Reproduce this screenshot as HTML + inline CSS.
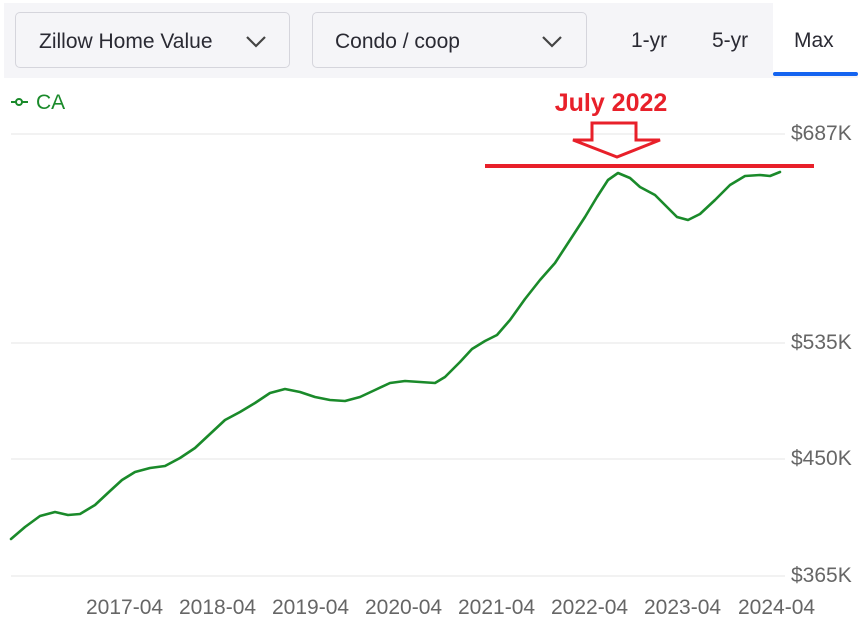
<!DOCTYPE html>
<html><head><style>
body{margin:0;width:864px;height:630px;background:#fff;font-family:"Liberation Sans",sans-serif;position:relative;overflow:hidden}
.bar{position:absolute;left:4px;top:3px;width:854px;height:75px;background:#f5f5f8}
.dd{position:absolute;top:12px;height:56px;border:1px solid #d5d5dc;border-radius:5px;background:#f5f5f8;font-size:21px;color:#2a2a33;line-height:58px;box-sizing:border-box;overflow:hidden;white-space:nowrap}
.tab{position:absolute;top:12px;height:56px;line-height:58px;font-size:21px;color:#2a2a33}
.ax{position:absolute;font-size:21px;color:#666}
</style></head><body>
<div class="bar"></div>
<div class="dd" style="left:15px;width:275px;padding-left:23px"><span style="display:inline-block;width:186px;overflow:hidden">Zillow Home Value</span></div>
<div class="dd" style="left:312px;width:275px;padding-left:22px">Condo / coop</div>
<svg style="position:absolute;left:0;top:0" width="864" height="80">
<polyline points="247,37 256,46 265,37" fill="none" stroke="#444" stroke-width="2.2"/>
<polyline points="543,37 552,46 561,37" fill="none" stroke="#444" stroke-width="2.2"/>
<rect x="773" y="3" width="85" height="72" fill="#fff"/>
<rect x="773" y="72" width="85" height="4" rx="2" fill="#1464f0"/>
</svg>
<div class="tab" style="left:631px">1-yr</div>
<div class="tab" style="left:712px">5-yr</div>
<div class="tab" style="left:794px">Max</div>
<svg style="position:absolute;left:0;top:80px" width="864" height="550" viewBox="0 80 864 550">
<line x1="11" y1="134" x2="785" y2="134" stroke="#eee" stroke-width="1.5"/>
<line x1="11" y1="343" x2="785" y2="343" stroke="#eee" stroke-width="1.5"/>
<line x1="11" y1="459" x2="785" y2="459" stroke="#eee" stroke-width="1.5"/>
<line x1="11" y1="576" x2="785" y2="576" stroke="#eee" stroke-width="1.5"/>
<line x1="11" y1="102" x2="28" y2="102" stroke="#1a8a2a" stroke-width="2"/>
<circle cx="19" cy="102" r="3" fill="#fff" stroke="#1a8a2a" stroke-width="2"/>
<text x="36" y="109" font-size="21" fill="#1a8a2a" font-family="Liberation Sans">CA</text>
<polyline fill="none" stroke="#1a8a2a" stroke-width="2.6" stroke-linejoin="round" stroke-linecap="round" points="11,539 25,527 40,516 55,512 68,515 80,514 95,505 110,491 122,480 135,472 150,468 165,466 180,458 195,448 210,434 225,420 240,412 255,403 270,393 285,389 300,392 315,397 330,400 345,401 360,397 375,390 390,383 405,381 420,382 435,383 445,377 460,362 472,349 485,341 497,335 510,320 525,299 540,280 555,263 570,240 585,217 597,197 608,180 618,173 630,178 640,187 655,195 665,205 677,217 688,220 700,214 715,200 730,185 745,176 760,175 770,176 780,172"/>
<line x1="485" y1="166" x2="814" y2="166" stroke="#e8202a" stroke-width="4"/>
<polygon points="592,123 636,123 636,140 660,140 617,157 573,140 592,140" fill="none" stroke="#e8202a" stroke-width="3"/>
<text x="611" y="111" font-size="25" font-weight="bold" fill="#e8202a" text-anchor="middle" font-family="Liberation Sans">July 2022</text>
</svg>
<div class="ax" style="left:791px;top:122px">$687K</div>
<div class="ax" style="left:791px;top:331px">$535K</div>
<div class="ax" style="left:791px;top:447px">$450K</div>
<div class="ax" style="left:791px;top:564px">$365K</div>
<div class="ax" style="left:86px;top:596px">2017-04</div>
<div class="ax" style="left:179px;top:596px">2018-04</div>
<div class="ax" style="left:272px;top:596px">2019-04</div>
<div class="ax" style="left:365px;top:596px">2020-04</div>
<div class="ax" style="left:458px;top:596px">2021-04</div>
<div class="ax" style="left:551px;top:596px">2022-04</div>
<div class="ax" style="left:644px;top:596px">2023-04</div>
<div class="ax" style="left:738px;top:596px">2024-04</div>
</body></html>
